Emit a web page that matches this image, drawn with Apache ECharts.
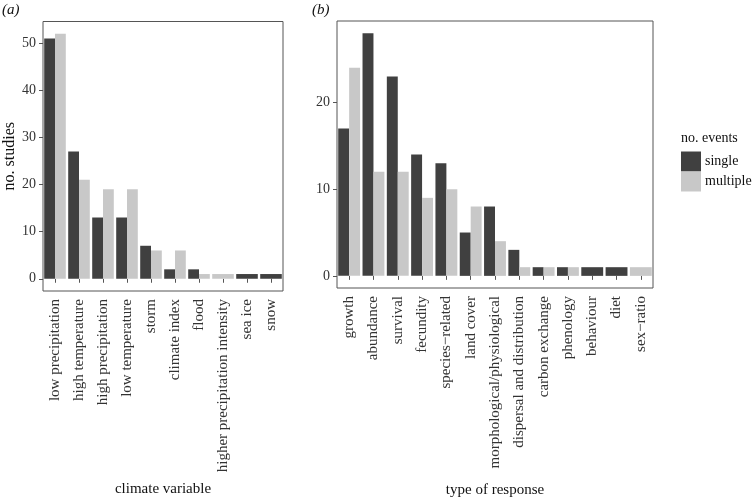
<!DOCTYPE html>
<html>
<head>
<meta charset="utf-8">
<script src="https://cdn.jsdelivr.net/npm/echarts@6/dist/echarts.min.js"></script>
<style>html,body{margin:0;padding:0;background:#fff}#c{width:755px;height:497px}</style>
</head>
<body>
<div id="c"></div>
<script>
const catA = ['low precipitation','high temperature','high precipitation','low temperature','storm','climate index','flood','higher precipitation intensity','sea ice','snow'];
const singleA = [51,27,13,13,7,2,2,null,1,1];
const multipleA = [52,21,19,19,6,6,1,1,null,null];
const ticksA = [0,10,20,30,40,50];

const catB = ['growth','abundance','survival','fecundity','species\u2212related','land cover','morphological/physiological','dispersal and distribution','carbon exchange','phenology','behaviour','diet','sex\u2212ratio'];
const singleB = [17,28,23,14,13,5,8,3,1,1,1,1,null];
const multipleB = [24,12,12,9,10,8,4,1,1,1,null,null,1];
const ticksB = [0,10,20];

const DARK = '#404040', LIGHT = '#c8c8c8';
const FONT = 'Liberation Serif';
const TXT = '#333';

function split(s, m) {
  const ds = [], dm = [], alone = [];
  for (let i = 0; i < s.length; i++) {
    if (s[i] != null && m[i] != null) { ds.push(s[i]); dm.push(m[i]); alone.push(null); }
    else if (s[i] != null) { ds.push(null); dm.push(null); alone.push({value: s[i], itemStyle: {color: DARK}}); }
    else { ds.push(null); dm.push(null); alone.push({value: m[i], itemStyle: {color: LIGHT}}); }
  }
  return {ds, dm, alone};
}
const A = split(singleA, multipleA), B = split(singleB, multipleB);

function xAx(grid, cats, name, gap) {
  return {
    type: 'category', gridIndex: grid, data: cats,
    axisLine: {show: false},
    axisTick: {show: true, alignWithLabel: true, length: 4, lineStyle: {color: '#555'}},
    axisLabel: {rotate: 90, interval: 0, margin: 8, fontFamily: FONT, fontSize: 15, color: TXT},
    name: name, nameLocation: 'middle', nameGap: gap,
    nameTextStyle: {fontFamily: FONT, fontSize: 15, color: '#111'}
  };
}
function xHidden(grid, cats) {
  return {type: 'category', gridIndex: grid, data: cats, show: false};
}
function yAx(grid, min, max, ticks, name) {
  return {
    type: 'value', gridIndex: grid, min: min, max: max,
    axisLine: {show: false},
    splitLine: {show: false},
    axisTick: {show: true, length: 4, customValues: ticks, lineStyle: {color: '#555'}},
    axisLabel: {customValues: ticks, margin: 7, fontFamily: FONT, fontSize: 14, color: TXT},
    name: name, nameLocation: 'middle', nameRotate: 90, nameGap: 25,
    nameTextStyle: {fontFamily: FONT, fontSize: 16, color: '#111'}
  };
}

const chart = echarts.init(document.getElementById('c'), null, {renderer: 'canvas'});
chart.setOption({
  animation: false,
  backgroundColor: '#fff',
  title: [
    {text: '(a)', left: 2, top: 3, padding: 0, textStyle: {fontFamily: FONT, fontStyle: 'italic', fontWeight: 'normal', fontSize: 15, color: '#111'}},
    {text: '(b)', left: 312, top: 3, padding: 0, textStyle: {fontFamily: FONT, fontStyle: 'italic', fontWeight: 'normal', fontSize: 15, color: '#111'}},
    {text: 'no. events', left: 681, top: 131, padding: 0, textStyle: {fontFamily: FONT, fontWeight: 'normal', fontSize: 14, color: '#111'}}
  ],
  legend: {
    data: ['single', 'multiple'], orient: 'vertical', left: 681, top: 151.5, padding: 0,
    icon: 'rect', itemWidth: 20, itemHeight: 20, itemGap: 0,
    textStyle: {fontFamily: FONT, fontSize: 14, color: '#111', padding: [0, 0, 0, -1]}
  },
  grid: [
    {left: 43, right: 472, top: 21.5, bottom: 206, outerBoundsMode: 'none', containLabel: false, show: true, borderColor: '#555', borderWidth: 1, backgroundColor: 'transparent'},
    {left: 337, right: 102, top: 21, bottom: 209, outerBoundsMode: 'none', containLabel: false, show: true, borderColor: '#555', borderWidth: 1, backgroundColor: 'transparent'}
  ],
  xAxis: [
    xAx(0, catA, 'climate variable', 191),
    xHidden(0, catA),
    xAx(1, catB, 'type of response', 195),
    xHidden(1, catB)
  ],
  yAxis: [
    yAx(0, -2.6, 54.6, ticksA, 'no. studies'),
    yAx(1, -1.4, 29.4, ticksB, '')
  ],
  series: [
    {name: 'single', type: 'bar', xAxisIndex: 0, yAxisIndex: 0, data: A.ds, itemStyle: {color: DARK}, barGap: '0%', barCategoryGap: '10%'},
    {name: 'multiple', type: 'bar', xAxisIndex: 0, yAxisIndex: 0, data: A.dm, itemStyle: {color: LIGHT}, barGap: '0%', barCategoryGap: '10%'},
    {name: 'aloneA', type: 'bar', xAxisIndex: 1, yAxisIndex: 0, data: A.alone, barCategoryGap: '10%'},
    {name: 'single', type: 'bar', xAxisIndex: 2, yAxisIndex: 1, data: B.ds, itemStyle: {color: DARK}, barGap: '0%', barCategoryGap: '10%'},
    {name: 'multiple', type: 'bar', xAxisIndex: 2, yAxisIndex: 1, data: B.dm, itemStyle: {color: LIGHT}, barGap: '0%', barCategoryGap: '10%'},
    {name: 'aloneB', type: 'bar', xAxisIndex: 3, yAxisIndex: 1, data: B.alone, barCategoryGap: '10%'}
  ]
});
</script>
</body>
</html>
